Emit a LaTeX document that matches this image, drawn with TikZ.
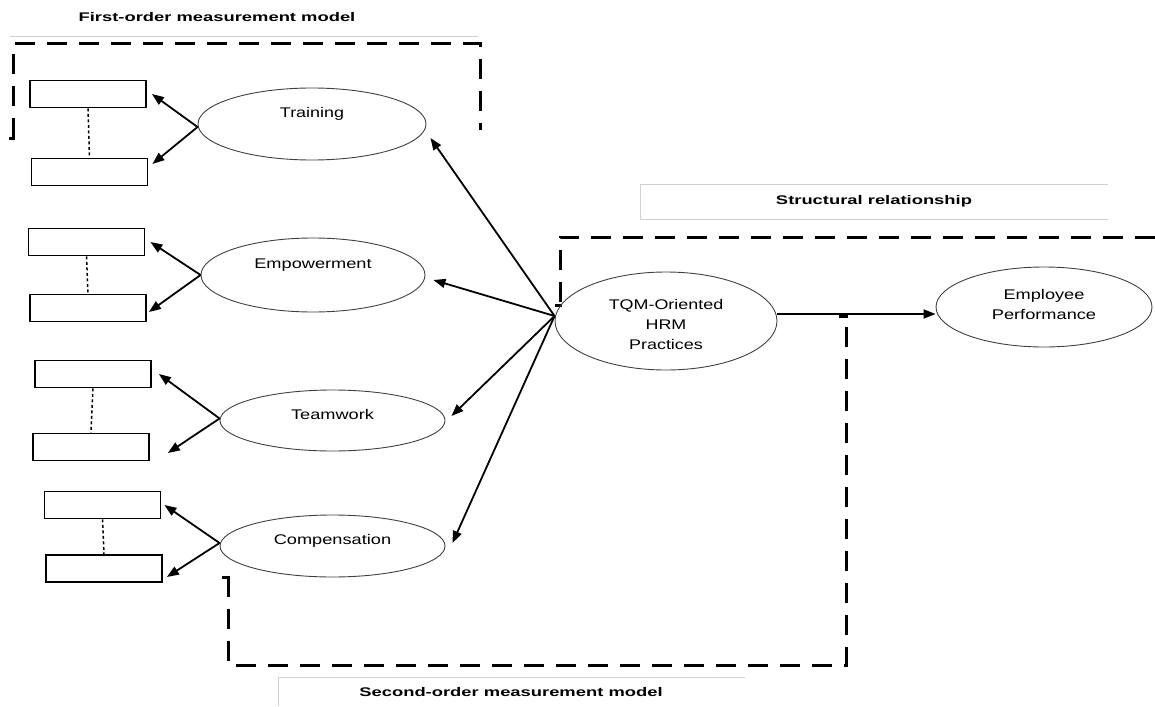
\documentclass[tikz,border=0pt]{standalone}
\usepackage{fontspec}
\setmainfont{Liberation Sans}
\usetikzlibrary{shapes.geometric,arrows.meta,calc}
\begin{document}
\begin{tikzpicture}[x=1pt,y=-1pt,
 ind/.style={draw,line width=1.8pt,minimum width=116pt,minimum height=27pt,inner sep=0pt},
 lat/.style={draw=black!75,line width=0.9pt,ellipse,inner sep=0pt},
 lbl/.style={font=\fontsize{14}{20}\selectfont,inner sep=0pt},
 ttl/.style={font=\fontsize{12.5}{15}\selectfont\bfseries,inner sep=0pt},
 arr/.style={line width=1.8pt,-{Triangle[length=12pt,width=9pt]}},
 dotl/.style={line width=1.5pt,dash pattern=on 3pt off 2.5pt},
 bigdash/.style={line width=3pt,dash pattern=on 20pt off 12pt},
 stub/.style={line width=3pt},
 grayline/.style={draw=black!18,line width=0.9pt}]
\useasboundingbox (0,0) rectangle (1155,706);

% gray label frames
\draw[grayline] (10,36) -- (478,36);
\draw[grayline] (640,219) -- (640,184) -- (1108,184);
\draw[grayline] (640,219) -- (1108,219);
\draw[grayline] (278,706) -- (278,677) -- (745,677);

% titles
\node[ttl] (t1) at (217,17) {\scalebox{1.47}[1]{First-order measurement model}};
\node[ttl] (t2) at (874,201) {\scalebox{1.47}[1]{Structural relationship}};
\node[ttl] (t3) at (511,692) {\scalebox{1.47}[1]{Second-order measurement model}};

% dashed grouping frames
\draw[bigdash] (13,138) -- (13,44) -- (480,44) -- (480,130);
\draw[stub] (9,138) -- (14.5,138);
\draw[bigdash] (1155,237) -- (560,237) -- (560,305);
\draw[stub] (555,305) -- (561.5,305);
\draw[bigdash] (228,577) -- (228,665) -- (846,665) -- (846,316);
\draw[stub] (222,577) -- (229.5,577);
\draw[stub] (839,316) -- (847.5,316);

% latent variables
\node[lat,minimum width=228pt,minimum height=72pt] (train) at (312,124) {};
\node[lbl] (trainL) at (312,114) {\scalebox{1.28}[1]{Training}};
\node[lat,minimum width=224pt,minimum height=74pt] (emp) at (313,275) {};
\node[lbl] (empL) at (313,265) {\scalebox{1.3}[1]{Empowerment}};
\node[lat,minimum width=225pt,minimum height=61pt] (team) at (332.5,420.5) {};
\node[lbl] (teamL) at (332.5,414) {\scalebox{1.3}[1]{Teamwork}};
\node[lat,minimum width=225pt,minimum height=62pt] (comp) at (332.5,546) {};
\node[lbl] (compL) at (332.5,541) {\scalebox{1.3}[1]{Compensation}};
\node[lat,minimum width=222pt,minimum height=98pt] (tqm) at (666,321) {};
\node[lbl] (tqmL) at (666,325) {\scalebox{1.28}[1]{\begin{tabular}{@{}c@{}}TQM-Oriented\\HRM\\Practices\end{tabular}}};
\node[lat,minimum width=216pt,minimum height=80pt] (perf) at (1044,307) {};
\node[lbl] (perfL) at (1044,305) {\scalebox{1.3}[1]{\begin{tabular}{@{}c@{}}Employee\\Performance\end{tabular}}};

% indicators
\node[ind] (tb1) at (88,94) {};
\node[ind] (tb2) at (89.5,172) {};
\node[ind] (eb1) at (86.5,242) {};
\node[ind] (eb2) at (88,308) {};
\node[ind] (wb1) at (93,374) {};
\node[ind] (wb2) at (91,447) {};
\node[ind] (cb1) at (102.5,505) {};
\node[ind] (cb2) at (104,568.5) {};

\draw[dotl] (tb1.south) -- (tb2.north);
\draw[dotl] (eb1.south) -- (eb2.north);
\draw[dotl] (wb1.south) -- (wb2.north);
\draw[dotl] (cb1.south) -- (cb2.north);

% loadings
\draw[arr] ([yshift=-3pt]train.west) -- ([xshift=5pt]tb1.east);
\draw[arr] ([yshift=-3pt]train.west) -- ([xshift=4pt,yshift=8pt]tb2.east);
\draw[arr] (emp.west) -- ([xshift=5pt]eb1.east);
\draw[arr] (emp.west) -- ([xshift=2pt,yshift=-4pt]eb2.east);
\draw[arr] ([yshift=2pt]team.west) -- ([xshift=7pt]wb1.east);
\draw[arr] ([yshift=2pt]team.west) -- ([xshift=18pt,yshift=-6pt]wb2.east);
\draw[arr] ([yshift=3pt]comp.west) -- ([xshift=3pt]cb1.east);
\draw[arr] ([yshift=3pt]comp.west) -- ([xshift=4pt,yshift=-8.5pt]cb2.east);

% second-order paths
\draw[arr] ([yshift=5pt]tqm.west) -- ([xshift=4pt,yshift=-14pt]train.east);
\draw[arr] ([yshift=5pt]tqm.west) -- ([xshift=8pt,yshift=-5pt]emp.east);
\draw[arr] ([yshift=5pt]tqm.west) -- ([xshift=6pt,yshift=4.5pt]team.east);
\draw[arr] ([yshift=5pt]tqm.west) -- ([xshift=7pt,yshift=3pt]comp.east);

% structural path
\draw[arr] ([yshift=7pt]tqm.east) -- ([yshift=7pt]tqm.east -| perf.west);
\end{tikzpicture}
\end{document}
